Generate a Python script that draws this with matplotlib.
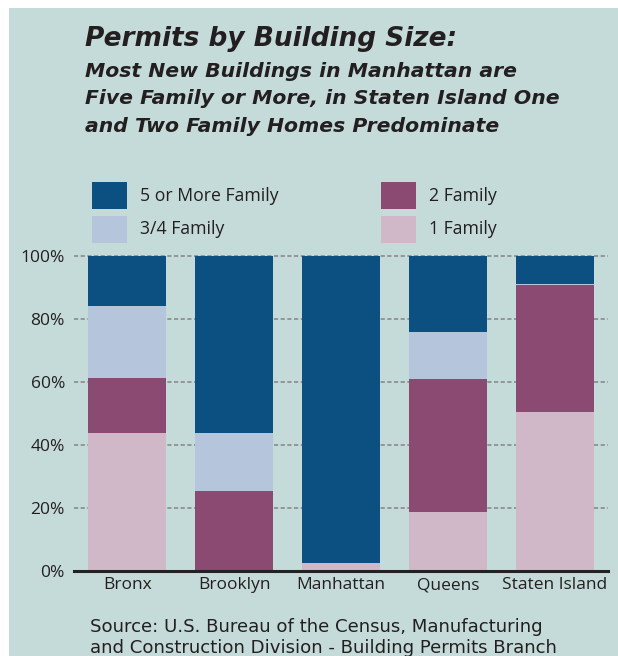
import numpy as np
import matplotlib.pyplot as plt
from matplotlib.patches import Rectangle

# Dados (percentuais)
boroughs = ['Bronx', 'Brooklyn', 'Manhattan', 'Queens', 'Staten Island']
one_family = [43.7, 0.0, 2.4, 18.6, 50.6]
two_family = [17.6, 25.3, 0.0, 42.2, 40.2]
three_four_family = [22.9, 18.4, 0.0, 15.0, 0.3]
five_plus_family = [15.8, 56.3, 97.6, 24.2, 8.9]
y_ticks = [0, 20, 40, 60, 80, 100]

# Cores
bg = '#c5dbd9'
c_five = '#0b5080'
c_34 = '#b5c5dc'
c_two = '#8a4a72'
c_one = '#d0b8c8'
txt = '#231f20'

W, H = 618, 656
fig = plt.figure(figsize=(W / 100, H / 100), dpi=100)
fig.patch.set_facecolor('white')
fig.patches.append(Rectangle((9 / W, 0), 1 - 9 / W, (H - 8) / H,
                             transform=fig.transFigure, facecolor=bg,
                             edgecolor='none', zorder=-10))

ax = fig.add_axes([74 / W, (H - 571) / H, (608 - 74) / W, (571 - 256) / H])
ax.set_facecolor('none')

x = np.arange(len(boroughs))
w = 0.73
series = [(one_family, c_one, '1 Family'),
          (two_family, c_two, '2 Family'),
          (three_four_family, c_34, '3/4 Family'),
          (five_plus_family, c_five, '5 or More Family')]
bottom = np.zeros(len(boroughs))
for vals, col, lab in series:
    ax.bar(x, vals, w, bottom=bottom, color=col, edgecolor='none', zorder=2, label=lab)
    bottom += np.array(vals)

ax.set_xlim(-0.5, 4.5)
ax.set_ylim(0, 100)
ax.set_yticks(y_ticks)
ax.set_yticklabels([f'{t}%' for t in y_ticks])
ax.set_xticks(x)
ax.set_xticklabels(boroughs)
ax.tick_params(axis='both', length=0, labelsize=12.5, colors=txt)
ax.tick_params(axis='y', pad=6.5)
ax.tick_params(axis='x', pad=4.5)
for lbl in ax.get_xticklabels() + ax.get_yticklabels():
    lbl.set_family('Open Sans')

for t in y_ticks[1:]:
    ax.axhline(t, color='#8a8a8a', lw=1.2, ls=(0, (2.5, 1.5)), zorder=1, clip_on=False)

for s in ['top', 'right', 'left']:
    ax.spines[s].set_visible(False)
ax.spines['bottom'].set_color('#222222')
ax.spines['bottom'].set_linewidth(2.2)
ax.spines['bottom'].set_zorder(3)

# Títulos
fig.text(85 / W, 1 - 46 / H, 'Permits by Building Size:', fontsize=19.0,
         fontweight='bold', style='italic', family='DejaVu Sans', color=txt)
sub = ['Most New Buildings in Manhattan are',
       'Five Family or More, in Staten Island One',
       'and Two Family Homes Predominate']
for i, line in enumerate(sub):
    fig.text(85 / W, 1 - (76.7 + 27.7 * i) / H, line, fontsize=14.7,
             fontweight='bold', style='italic', family='DejaVu Sans', color=txt)

# Legenda manual
leg = [(92, 182, c_five, '5 or More Family'),
       (381, 182, c_two, '2 Family'),
       (92, 216, c_34, '3/4 Family'),
       (381, 216, c_one, '1 Family')]
for lx, ly, col, lab in leg:
    fig.patches.append(Rectangle((lx / W, 1 - (ly + 27) / H), 35 / W, 27 / H,
                                 transform=fig.transFigure, facecolor=col,
                                 edgecolor='none'))
    fig.text((lx + 48) / W, 1 - (ly + 13.5) / H, lab, fontsize=12.7,
             family='Open Sans', color=txt, va='center')

# Fonte
fig.text(90 / W, 1 - 632.3 / H, 'Source: U.S. Bureau of the Census, Manufacturing',
         fontsize=13.1, family='DejaVu Sans', color=txt)
fig.text(90 / W, 1 - 653.3 / H, 'and Construction Division - Building Permits Branch',
         fontsize=13.1, family='DejaVu Sans', color=txt)

plt.savefig('out.png', dpi=100, facecolor=fig.get_facecolor())
